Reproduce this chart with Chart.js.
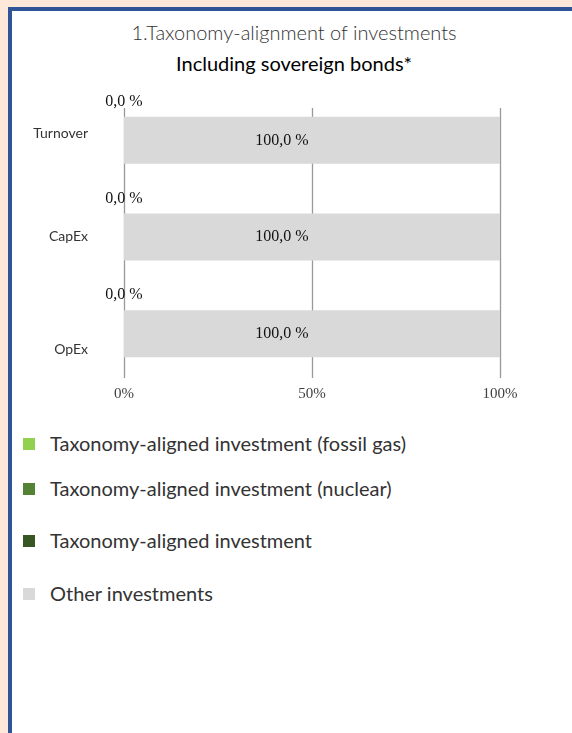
<!DOCTYPE html>
<html>
<head>
<meta charset="utf-8">
<script src="https://cdn.jsdelivr.net/npm/chart.js@4.4.0/dist/chart.umd.min.js"></script>
<style>
  html, body { margin: 0; padding: 0; }
  body { width: 572px; height: 733px; background: #fde8d9; position: relative; overflow: hidden; font-family: Lato, "Open Sans", sans-serif; }
  #panel { position: absolute; left: 8px; top: 7px; width: 600px; height: 760px; background: #fff; border-left: 4px solid #2f5597; border-top: 4px solid #2f5597; }
  .title { position: absolute; left: 0; width: 588px; text-align: center; font-size: 20px; line-height: 24px; white-space: nowrap; }
  #t1 { top: 20px; color: #333; font-weight: 300; }
  #t2 { top: 51px; color: #000; font-weight: 400; }
  #wrap { position: absolute; left: 0; top: 0; width: 572px; height: 420px; }
  .leg { position: absolute; left: 23px; font-size: 20px; line-height: 24px; color: #333; white-space: nowrap; }
  .leg i { position: absolute; left: 0; top: 7px; width: 12px; height: 12px; }
  .leg span { position: absolute; left: 27px; top: 0; }
</style>
</head>
<body>
<div id="panel"></div>
<div class="title" id="t1">1.Taxonomy-alignment of investments</div>
<div class="title" id="t2">Including sovereign bonds*</div>
<div id="wrap"><canvas id="chart" width="572" height="420"></canvas></div>
<div id="legend"></div>
<script>
const categories = ['Turnover', 'CapEx', 'OpEx'];
const fossilGas = [0, 0, 0];
const nuclear = [0, 0, 0];
const aligned = [0, 0, 0];
const other = [100, 100, 100];
const xTicks = [0, 50, 100];
const seriesNames = [
  'Taxonomy-aligned investment (fossil gas)',
  'Taxonomy-aligned investment (nuclear)',
  'Taxonomy-aligned investment',
  'Other investments'
];
const seriesColors = ['#92d050', '#548235', '#375623', '#d9d9d9'];

// odd spots the original export left things in
const catLabelShift = [-7, -1, 16];
const legendTops = [431, 476, 528, 581];

const fmt = v => v.toFixed(1).replace('.', ',') + ' %';

const labelPlugin = {
  id: 'labels',
  beforeDatasetsDraw(chart) {
    const { ctx, chartArea, scales: { x } } = chart;
    ctx.save();
    ctx.strokeStyle = '#999';
    ctx.lineWidth = 1.3;
    x.ticks.forEach(t => {
      const px = Math.round(x.getPixelForValue(t.value)) + 0.5;
      ctx.beginPath();
      ctx.moveTo(px, chartArea.top + 16);
      ctx.lineTo(px, chartArea.bottom - 4);
      ctx.stroke();
    });
    ctx.restore();
  },
  afterDatasetsDraw(chart) {
    const { ctx, scales: { y } } = chart;
    ctx.save();
    ctx.textBaseline = 'middle';

    ctx.font = '14px Lato, "Open Sans", sans-serif';
    ctx.fillStyle = '#333';
    ctx.textAlign = 'right';
    categories.forEach((c, i) => {
      ctx.fillText(c, 88, y.getPixelForValue(i) + catLabelShift[i]);
    });

    ctx.font = '16px "Liberation Serif", serif';
    ctx.fillStyle = '#111';
    ctx.textAlign = 'center';
    chart.getDatasetMeta(2).data.forEach((bar, i) => {
      ctx.fillText(fmt(aligned[i]), bar.x, bar.y - bar.height / 2 - 15);
    });
    chart.getDatasetMeta(3).data.forEach((bar, i) => {
      ctx.fillText(fmt(other[i]), (bar.x + bar.base) / 2 - 30, bar.y);
    });
    ctx.restore();
  }
};

const mk = (label, data, color) => ({
  label, data, backgroundColor: color, borderWidth: 0,
  barPercentage: 0.486, categoryPercentage: 1
});

new Chart(document.getElementById('chart'), {
  type: 'bar',
  data: {
    labels: categories,
    datasets: [
      mk(seriesNames[0], fossilGas, seriesColors[0]),
      mk(seriesNames[1], nuclear, seriesColors[1]),
      mk(seriesNames[2], aligned, seriesColors[2]),
      mk(seriesNames[3], other, seriesColors[3])
    ]
  },
  options: {
    indexAxis: 'y',
    responsive: false,
    animation: false,
    layout: { padding: { top: 92, left: 0, right: 72, bottom: 12 } },
    scales: {
      x: {
        stacked: true,
        min: xTicks[0],
        max: xTicks[xTicks.length - 1],
        afterBuildTicks: s => { s.ticks = xTicks.map(v => ({ value: v })); },
        afterFit: s => { s.height = 26; },
        grid: { display: false },
        border: { display: false },
        ticks: {
          padding: -5,
          color: '#404040',
          font: { family: '"Liberation Serif", serif', size: 15 },
          callback: v => v + '%'
        }
      },
      y: {
        stacked: true,
        afterFit: s => { s.width = 124; },
        grid: { display: false },
        border: { display: false },
        ticks: { display: false }
      }
    },
    plugins: { legend: { display: false }, tooltip: { enabled: false } }
  },
  plugins: [labelPlugin]
});

const legend = document.getElementById('legend');
seriesNames.forEach((n, i) => {
  const d = document.createElement('div');
  d.className = 'leg';
  d.style.top = legendTops[i] + 'px';
  d.innerHTML = '<i style="background:' + seriesColors[i] + '"></i><span>' + n + '</span>';
  legend.appendChild(d);
});
</script>
</body>
</html>
